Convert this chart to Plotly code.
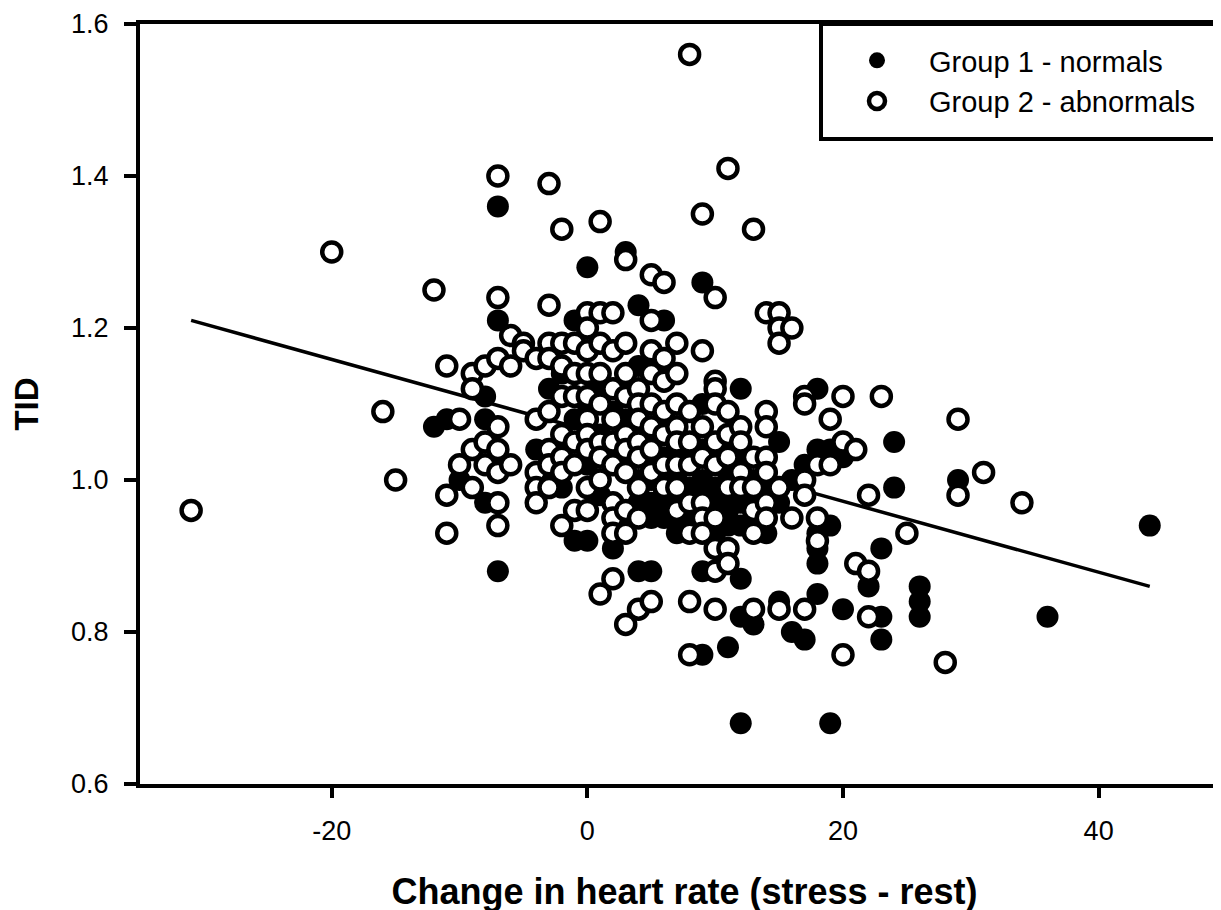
import plotly.graph_objects as go

# ---- Data ----
g1_x = [-12, -11, -10, -8, -8, -8, -7, -7, -7, -4, -3, -2, -2, -1, -1, 0, 0,
        1, 2, 3, 3, 3, 4, 4, 5, 5, 5, 6, 6, 7, 7, 8,
        9, 9, 9, 9, 10, 10, 10, 11, 12, 12, 12, 12, 13, 13,
        14, 14, 15, 15, 16, 17, 17, 18, 18, 18, 18, 18, 18,
        19, 19, 19, 20, 20, 22, 23, 23, 23, 24, 24, 26, 26, 26, 29, 36, 44,
        -1, 0, 0, 1, 1, 2, 2, 3, 3, 4, 4, 4, 5, 5, 6, 6, 6, 7, 7, 8, 8, 8,
        9, 9, 9, 10, 10, 11, 11, 11, 12, 12, 12, 13, 13, 14, 15, 16,
        8, 9, 10, 11, 12, 13, 14, 10, 11, 12, 6, 7, 5, 4]
g1_y = [1.07, 1.08, 1.00, 1.11, 1.08, 0.97, 1.36, 1.21, 0.88, 1.04, 1.12, 1.14, 0.99, 1.21, 0.92, 1.28, 0.92,
        1.06, 0.91, 1.30, 1.18, 0.94, 1.23, 0.88, 0.88, 1.15, 0.97, 1.21, 0.95, 0.97, 0.93, 0.95,
        1.26, 1.10, 0.88, 0.77, 1.12, 0.99, 0.95, 0.78, 1.12, 0.87, 0.82, 0.68, 0.81, 0.93,
        1.00, 0.93, 1.05, 0.84, 0.80, 1.02, 0.79, 1.12, 1.04, 0.93, 0.91, 0.89, 0.85,
        1.04, 0.94, 0.68, 1.03, 0.83, 0.86, 0.91, 0.82, 0.79, 1.05, 0.99, 0.86, 0.84, 0.82, 1.00, 0.82, 0.94,
        1.08, 1.02, 1.10, 1.12, 0.98, 1.04, 1.09, 1.02, 1.08, 1.00, 1.06, 1.15, 1.05, 1.00, 1.03, 1.07, 0.97, 1.00, 1.04, 0.99, 1.03, 0.94,
        1.00, 0.96, 1.04, 0.97, 1.03, 1.00, 0.96, 1.05, 0.98, 0.94, 1.03, 1.00, 0.95, 0.99, 0.97, 1.00,
        0.96, 0.98, 0.96, 0.97, 0.97, 0.98, 0.96, 0.93, 0.94, 1.00, 0.96, 0.95, 0.95, 0.97]

g2_x = [-31, -20, -16, -15, -12, -11, -11, -11, -10, -10, -9, -9, -9, -9, -8, -8, -8,
        -7, -7, -7, -7, -7, -7, -7, -7, -6, -6, -6, -5, -5, -4, -4, -4, -4, -4,
        -3, -3, -3, -3, -3, -3, -3, -3, -2, -2, -2, -2, -2, -2, -2, -2,
        -1, -1, -1, -1, -1, -1, 0, 0, 0, 0, 0, 0, 0, 0, 0, 0,
        1, 1, 1, 1, 1, 1, 1, 1, 1, 2, 2, 2, 2, 2, 2, 2, 2, 2, 2,
        3, 3, 3, 3, 3, 3, 3, 3, 3, 3, 4, 4, 4, 4, 4, 4, 4, 4,
        5, 5, 5, 5, 5, 5, 5, 5, 5, 6, 6, 6, 6, 6, 6, 6,
        7, 7, 7, 7, 7, 7, 7, 7, 8, 8, 8, 8, 8, 8, 8, 8,
        9, 9, 9, 9, 9, 9, 9, 10, 10, 10, 10, 10, 10, 10, 10, 10, 10,
        11, 11, 11, 11, 11, 11, 11, 12, 12, 12, 12, 13, 13, 13, 13, 13, 13,
        14, 14, 14, 14, 14, 14, 14, 15, 15, 15, 15, 15, 16, 16,
        17, 17, 17, 17, 17, 18, 18, 18, 19, 19, 20, 20, 20, 21, 21,
        22, 22, 22, 23, 25, 28, 29, 29, 31, 34]
g2_y = [0.96, 1.30, 1.09, 1.00, 1.25, 1.15, 0.98, 0.93, 1.02, 1.08, 1.14, 1.12, 1.04, 0.99, 1.15, 1.05, 1.02,
        1.40, 1.24, 1.16, 1.07, 1.04, 1.01, 0.97, 0.94, 1.19, 1.15, 1.02, 1.18, 1.17, 1.16, 1.08, 1.01, 0.99, 0.97,
        1.39, 1.23, 1.18, 1.16, 1.09, 1.04, 1.02, 0.99, 1.33, 1.18, 1.15, 1.11, 1.06, 1.03, 1.01, 0.94,
        1.18, 1.14, 1.11, 1.05, 1.02, 0.96, 1.22, 1.20, 1.17, 1.14, 1.11, 1.08, 1.06, 1.04, 0.99, 0.96,
        1.34, 1.22, 1.18, 1.14, 1.10, 1.05, 1.03, 1.00, 0.85, 1.22, 1.17, 1.12, 1.08, 1.05, 1.02, 0.97, 0.95, 0.93, 0.87,
        1.29, 1.18, 1.14, 1.11, 1.06, 1.04, 1.01, 0.96, 0.93, 0.81, 1.12, 1.10, 1.08, 1.05, 1.03, 0.99, 0.95, 0.83,
        1.27, 1.21, 1.17, 1.14, 1.10, 1.07, 1.04, 1.01, 0.84, 1.26, 1.16, 1.13, 1.09, 1.06, 1.02, 0.99,
        1.18, 1.14, 1.10, 1.07, 1.05, 1.02, 0.99, 0.96, 1.56, 1.09, 1.05, 1.02, 0.97, 0.93, 0.84, 0.77,
        1.35, 1.17, 1.07, 1.03, 0.97, 0.95, 0.93, 1.24, 1.13, 1.12, 1.10, 1.05, 1.02, 0.95, 0.91, 0.88, 0.83,
        1.41, 1.09, 1.06, 1.03, 0.99, 0.91, 0.89, 1.07, 1.05, 1.01, 0.99, 1.33, 1.03, 0.99, 0.96, 0.93, 0.83,
        1.22, 1.09, 1.07, 1.03, 1.01, 0.97, 0.95, 1.22, 1.20, 1.18, 0.99, 0.83, 1.20, 0.95,
        1.11, 1.10, 1.00, 0.98, 0.83, 1.02, 0.95, 0.92, 1.08, 1.02, 1.11, 1.05, 0.77, 1.04, 0.89,
        0.98, 0.88, 0.82, 1.11, 0.93, 0.76, 1.08, 0.98, 1.01, 0.97]

# Regression line end points
fit_x = [-31, 44]
fit_y = [1.21, 0.86]

x_range = [-35, 50.2]
y_range = [0.6, 1.6]
x_ticks = [-20, 0, 20, 40]
x_tick_text = ["-20", "0", "20", "40"]
y_ticks = [0.6, 0.8, 1.0, 1.2, 1.4, 1.6]

FONT = "Liberation Sans, Arial, sans-serif"

fig = go.Figure()
fig.add_trace(go.Scatter(
    x=fit_x, y=fit_y, mode="lines",
    line=dict(color="black", width=3.5), showlegend=False, hoverinfo="skip"))
fig.add_trace(go.Scatter(
    x=g1_x, y=g1_y, mode="markers", name="Group 1 - normals",
    marker=dict(symbol="circle", size=22, color="black", line=dict(width=0))))
fig.add_trace(go.Scatter(
    x=g2_x, y=g2_y, mode="markers", name="Group 2 - abnormals",
    marker=dict(symbol="circle", size=19, color="white", line=dict(color="black", width=4.5))))

# page offset (browser body margin) compensation
OFF = 8
W, H = 1221, 910
L, R, T, B = 140 - OFF, 0, 24 - OFF, 910 - (784 - OFF)
pw = W - L - R
ph = H - T - B

def px_x(p):  # page pixel -> paper
    return (p - OFF - L) / pw

def px_y(p):
    return 1 - (p - OFF - T) / ph

# legend frame (extends past the right edge like the reference)
fig.add_shape(type="rect", xref="paper", yref="paper",
              x0=px_x(821), x1=1.05, y0=px_y(139), y1=1.0,
              line=dict(color="black", width=4), fillcolor="white", layer="below")

fig.update_layout(
    width=W, height=H,
    margin=dict(l=L, r=R, t=T, b=B),
    paper_bgcolor="white", plot_bgcolor="white",
    font=dict(family=FONT, color="black", size=27),
    showlegend=True,
    legend=dict(x=px_x(825), y=px_y(35), xanchor="left", yanchor="top",
                bgcolor="rgba(0,0,0,0)", borderwidth=0,
                itemwidth=94, tracegroupgap=0,
                font=dict(family=FONT, size=29, color="black")),
    xaxis=dict(range=x_range, tickvals=x_ticks, ticktext=x_tick_text, ticks="outside",
               ticklen=10, tickwidth=4,
               tickcolor="black", showline=True, linecolor="black", linewidth=4, mirror=True,
               showgrid=False, zeroline=False, ticklabelstandoff=10,
               tickfont=dict(size=27, family=FONT),
               title=dict(text="<b>Change in heart rate (stress - rest)</b>",
                          font=dict(size=36, family=FONT), standoff=34)),
    yaxis=dict(range=y_range, tickvals=y_ticks, tickformat=".1f", ticks="outside", ticklen=12,
               tickwidth=4, tickcolor="black", showline=True, linecolor="black", linewidth=4,
               showgrid=False, zeroline=False, ticklabelstandoff=10,
               tickfont=dict(size=27, family=FONT),
               title=dict(text="<b>TID</b>", font=dict(size=33, family=FONT), standoff=28)),
)

fig.write_html("out.html")
